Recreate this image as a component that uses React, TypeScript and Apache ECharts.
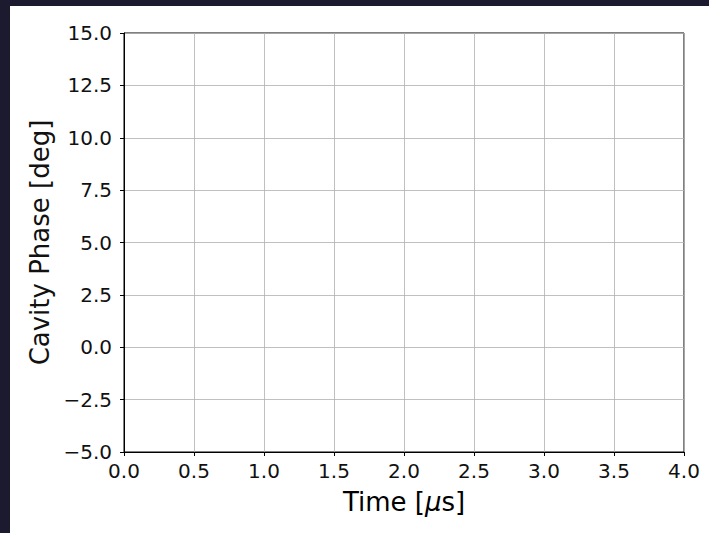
import React, { useEffect, useRef } from "react";
import * as echarts from "echarts";

// Data (the reference plot is empty: no samples drawn)
const timeUs: number[] = [];
const phaseDeg: number[] = [];

// Axis ranges / ticks
const xRange = [0, 4];
const xStep = 0.5;
const yRange = [-5, 15];
const yStep = 2.5;

const FONT = "DejaVu Sans";

export default function App() {
  const ref = useRef<HTMLDivElement>(null);
  useEffect(() => {
    if (!ref.current) return;
    const chart = echarts.init(ref.current, undefined, { renderer: "svg" });
    const fmt = (v: number) => {
      const s = Math.abs(v).toFixed(1);
      return v < 0 ? "\u2212" + s : s;
    };
    chart.setOption({
      animation: false,
      backgroundColor: "#ffffff",
      grid: {
        left: 114,
        right: 25,
        top: 27,
        bottom: 81,
        show: true,
        borderColor: "#000000",
        borderWidth: 1,
        backgroundColor: "transparent",
      },
      xAxis: {
        type: "value",
        min: xRange[0],
        max: xRange[1],
        interval: xStep,
        name: "Time [{i|\u03bc}s]",
        nameLocation: "middle",
        nameGap: 37,
        nameTextStyle: {
          fontFamily: FONT,
          fontSize: 26,
          color: "#000",
          rich: { i: { fontFamily: FONT, fontSize: 26, fontStyle: "italic", color: "#000" } },
        },
        axisLine: { show: true, onZero: false, lineStyle: { color: "#000", width: 1 } },
        axisTick: { show: true, inside: false, length: 4, lineStyle: { color: "#000", width: 1 } },
        axisLabel: { fontFamily: FONT, fontSize: 20, color: "#111", margin: 9, formatter: fmt },
        splitLine: { show: true, lineStyle: { color: "#b0b0b0", width: 0.8 } },
      },
      yAxis: {
        type: "value",
        min: yRange[0],
        max: yRange[1],
        interval: yStep,
        name: "Cavity Phase [deg]",
        nameLocation: "middle",
        nameRotate: 90,
        nameGap: 70,
        nameTextStyle: { fontFamily: FONT, fontSize: 26, color: "#111" },
        axisLine: { show: true, onZero: false, lineStyle: { color: "#000", width: 1 } },
        axisTick: { show: true, inside: false, length: 4, lineStyle: { color: "#000", width: 1 } },
        axisLabel: { fontFamily: FONT, fontSize: 20, color: "#111", margin: 12, formatter: fmt },
        splitLine: { show: true, lineStyle: { color: "#b0b0b0", width: 0.8 } },
      },
      series: [
        {
          type: "line",
          data: timeUs.map((t, i) => [t, phaseDeg[i]]),
          showSymbol: false,
          lineStyle: { color: "#1f77b4" },
        },
      ],
    });
    return () => chart.dispose();
  }, []);
  return (
    <div
      style={{
        position: "absolute",
        left: 0,
        top: 0,
        width: 709,
        height: 533,
        background: "#1b1a2e",
        overflow: "hidden",
      }}
    >
      <div
        ref={ref}
        style={{ position: "absolute", left: 10, top: 6, width: 699, height: 527 }}
      />
    </div>
  );
}
